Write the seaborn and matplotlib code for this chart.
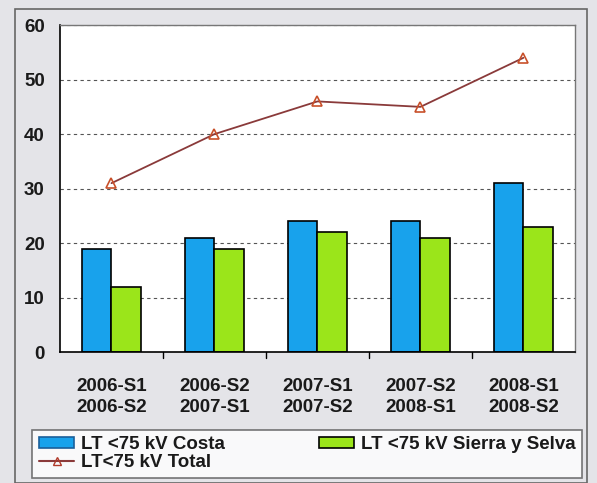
import numpy as np
import pandas as pd
import matplotlib
matplotlib.use('Agg')
import matplotlib.pyplot as plt
import seaborn as sns
from matplotlib.patches import Patch, Rectangle
from matplotlib.lines import Line2D

# DATOS
categorias = ['2006-S1\n2006-S2', '2006-S2\n2007-S1', '2007-S1\n2007-S2',
              '2007-S2\n2008-S1', '2008-S1\n2008-S2']
costa = [19, 21, 24, 24, 31]
sierra_selva = [12, 19, 22, 21, 23]
total = [31, 40, 46, 45, 54]

serie_costa = 'LT <75 kV Costa'
serie_sierra = 'LT <75 kV Sierra y Selva'
serie_total = 'LT<75 kV Total'

azul = '#18a2ec'
verde = '#9be51a'
rojo = '#8a3a3a'

df = pd.DataFrame({
    'periodo': categorias * 2,
    'valor': costa + sierra_selva,
    'serie': [serie_costa] * len(costa) + [serie_sierra] * len(sierra_selva),
})

sns.set_style('white')
plt.rcParams['font.family'] = ['Liberation Sans', 'DejaVu Sans']

fig = plt.figure(figsize=(5.97, 4.83), dpi=100)
fig.patch.set_facecolor('#e4e4e8')
ax = fig.add_axes([0.1005, 0.271, 0.8625, 0.677])

sns.barplot(data=df, x='periodo', y='valor', hue='serie',
            palette=[azul, verde], saturation=1, width=0.58, gap=0,
            edgecolor='black', linewidth=1.2, ax=ax, legend=False)

ax.plot(np.arange(len(total)), total, color=rojo, linewidth=1.3,
        marker='^', markersize=7, markerfacecolor='none',
        markeredgecolor='#c8502a', markeredgewidth=1.2, label=serie_total)

ax.set_ylim(0, 60)
ax.set_xlim(-0.5, len(categorias) - 0.5)
ax.set_yticks(range(0, 61, 10))
ax.yaxis.grid(True, linestyle=(0, (3, 3)), color='#555555', linewidth=0.8)
ax.set_axisbelow(True)
ax.set_xlabel('')
ax.set_ylabel('')
ax.tick_params(axis='y', labelsize=13.5, length=0, pad=11)
ax.tick_params(axis='x', labelsize=13.5, length=0, pad=19)
for lbl in ax.get_xticklabels() + ax.get_yticklabels():
    lbl.set_fontweight('bold')
    lbl.set_color('#1a1a1a')
    lbl.set_linespacing(1.25)
for x in np.arange(0.5, len(categorias) - 1, 1.0):
    ax.plot([x, x], [0, -1.0], color='black', linewidth=1, clip_on=False)

for side in ['left', 'bottom']:
    ax.spines[side].set_color('black')
    ax.spines[side].set_linewidth(1.2)
for side in ['top', 'right']:
    ax.spines[side].set_color('#777777')
    ax.spines[side].set_linewidth(1)

# LEYENDA
handles = [
    Patch(facecolor=azul, edgecolor='#1a5f9a', linewidth=1.2, label=serie_costa),
    Line2D([], [], color=rojo, marker='^', markersize=6, markerfacecolor='none',
           markeredgecolor='#b03a2a', label=serie_total),
    Patch(facecolor=verde, edgecolor='black', linewidth=1.2, label=serie_sierra),
]
leg = fig.legend(handles=handles, ncol=2, loc='upper left',
                 bbox_to_anchor=(0.054, 0.0, 0.921, 0.11), mode='expand',
                 frameon=True, fancybox=False, edgecolor='#555555',
                 fontsize=13.5, handlelength=1.9, handleheight=0.55,
                 handletextpad=0.35, labelspacing=0.05, borderpad=0.35,
                 borderaxespad=0)
leg.get_frame().set_linewidth(1.2)
leg.get_frame().set_facecolor('white')
for t in leg.get_texts():
    t.set_fontweight('bold')
    t.set_color('#1a1a1a')

fig.patches.append(Rectangle((15 / 597, 0.0), 572 / 597, 1 - 9 / 483,
                             transform=fig.transFigure, fill=False,
                             edgecolor='#666666', linewidth=1.2))

plt.savefig('out.png', dpi=100, facecolor=fig.get_facecolor())
